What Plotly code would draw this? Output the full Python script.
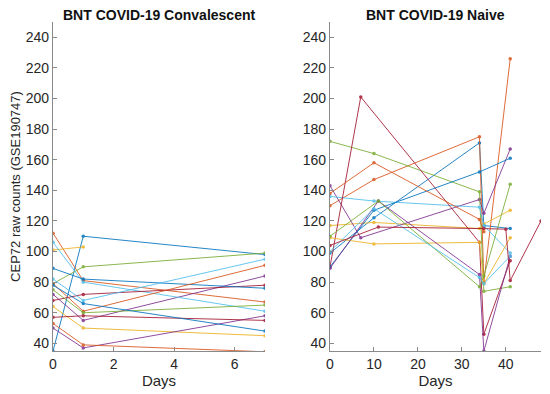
import plotly.graph_objects as go

# ---------------- data ----------------
conv_days = [
    [0, 1, 7], [0, 1, 7], [0, 1], [0, 1, 7], [0, 1, 7], [0, 1, 7], [0, 1, 7],
    [0, 1, 7], [0, 1, 7], [0, 1, 7], [0, 1, 7], [0, 1, 7], [0, 1, 7], [0, 1, 7],
    [0, 1, 7], [0, 1, 7],
]
conv_vals = [
    [35, 110, 98], [112, 81, 67], [101, 103], [72, 55, 84], [79, 90, 99],
    [106, 80, 61], [68, 72, 78], [89, 82, 76], [79, 61, 91], [64, 50, 45],
    [50, 37, 58], [75, 60, 65], [82, 68, 95], [57, 58, 55], [78, 66, 48],
    [53, 39, 34.5],
]

naive_days = [
    [0, 10, 34, 35, 41], [0, 10, 34, 35, 41], [0, 10, 34, 35, 41],
    [0, 7, 34, 35, 41], [0, 10, 34, 35, 41], [0, 10, 34, 35, 41],
    [0, 7, 34, 35, 41], [0, 10, 34, 41], [0, 10, 34, 35],
    [0, 10, 34, 35, 41], [0, 11, 34, 35, 41], [0, 11, 34, 35, 41],
    [0, 10, 34, 35, 41], [0, 11, 35, 40, 41, 48],
]
naive_vals = [
    [99, 122, 171, 117, 115], [130, 147, 175, 80, 226], [117, 119, 115, 118, 127],
    [143, 109, 134, 125, 167], [172, 164, 139, 74, 77], [136, 133, 129, 117, 99],
    [90, 201, 106, 46, 94], [90, 127, 152, 161], [138, 158, 121, 113],
    [109, 105, 106, 79, 109], [89, 133, 85, 35, 97], [110, 133, 77, 84, 144],
    [100, 128, 83, 79, 97], [104, 116, 115, 114.6, 81, 120],
]

panel_titles = ["BNT COVID-19 Convalescent", "BNT COVID-19 Naive"]
y_title = "CEP72 raw counts (GSE190747)"
x_title = "Days"
y_ticks = [40, 60, 80, 100, 120, 140, 160, 180, 200, 220, 240]
conv_x_ticks = [0, 2, 4, 6]
naive_x_ticks = [0, 10, 20, 30, 40]

palette = ["#0072BD", "#D95319", "#EDB120", "#7E2F8E", "#77AC30", "#4DBEEE", "#A2142F"]

# ---------------- figure ----------------
fig = go.Figure()

def add_panel(days, vals, xa, ya):
    for i, (d, v) in enumerate(zip(days, vals)):
        c = palette[i % len(palette)]
        fig.add_trace(go.Scatter(
            x=d, y=v, mode="lines+markers", xaxis=xa, yaxis=ya,
            line=dict(color=c, width=1), marker=dict(color=c, size=3.5),
            opacity=0.85, showlegend=False, hoverinfo="x+y"))

add_panel(conv_days, conv_vals, "x", "y")
add_panel(naive_days, naive_vals, "x2", "y2")

font_main = "Liberation Sans, Arial, sans-serif"
axis_common = dict(showline=True, linecolor="#8a8a8a", linewidth=1.3, showgrid=False,
                   zeroline=False, ticks="inside", ticklen=4, tickcolor="#8a8a8a",
                   automargin=False,
                   tickfont=dict(size=14, color="#262626", family=font_main))

# page body adds an 8px offset, so the figure is sized to the remaining window
fig.update_layout(
    width=542, height=386,
    margin=dict(l=45, r=9, t=14, b=43),
    paper_bgcolor="white", plot_bgcolor="white",
    font=dict(family=font_main, color="#262626"),
    xaxis=dict(domain=[0, 0.4344], range=[0, 7], tickvals=conv_x_ticks, anchor="y",
               title=dict(text=x_title, font=dict(size=15), standoff=3), **axis_common),
    yaxis=dict(domain=[0, 1], range=[35, 250], tickvals=y_ticks, anchor="x",
               title=dict(text=y_title, font=dict(size=13), standoff=7), **axis_common),
    xaxis2=dict(domain=[0.5676, 1], range=[0, 48], tickvals=naive_x_ticks, anchor="y2",
                title=dict(text=x_title, font=dict(size=15), standoff=3), **axis_common),
    yaxis2=dict(domain=[0, 1], range=[35, 250], tickvals=y_ticks, anchor="x2", **axis_common),
    annotations=[
        dict(text="<b>" + panel_titles[0] + "</b>", xref="x domain", yref="paper",
             x=0.5, y=1, yanchor="bottom", yshift=-3, showarrow=False,
             font=dict(size=14, color="#111111")),
        dict(text="<b>" + panel_titles[1] + "</b>", xref="x2 domain", yref="paper",
             x=0.5, y=1, yanchor="bottom", yshift=-3, showarrow=False,
             font=dict(size=14, color="#111111")),
    ],
)

fig.write_html("out.html")
